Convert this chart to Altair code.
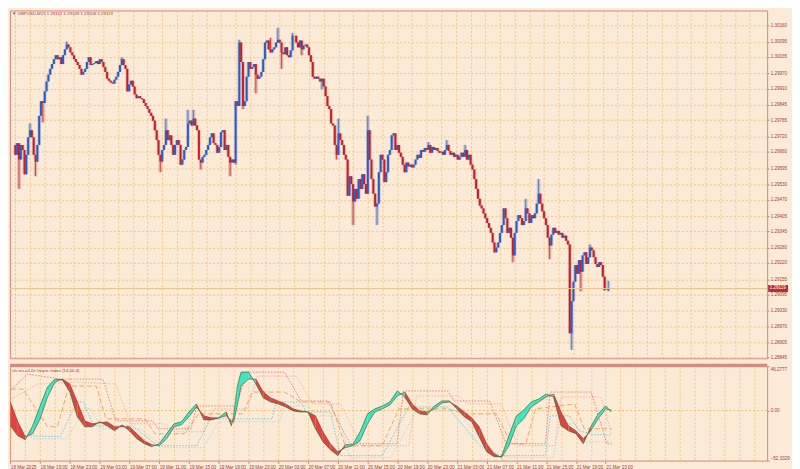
import altair as alt
import pandas as pd

# ---------------- data: GBPUSD M15, bars from 18 Mar 15:00 to 21 Mar 23:45 ----------------
first_open = 1.29687
close = [
    1.29648, 1.29694, 1.29629, 1.29687, 1.29667, 1.29571, 1.29648, 1.29717,
    1.29745, 1.29717, 1.29648, 1.29621, 1.29687, 1.29802, 1.29860, 1.29853,
    1.29899, 1.29938, 1.29965, 1.29988, 1.30007, 1.30026, 1.30042, 1.30026,
    1.30034, 1.30007, 1.30042, 1.30065, 1.30084, 1.30073, 1.30053, 1.30042,
    1.30026, 1.30015, 1.30003, 1.29988, 1.29965, 1.29976, 1.29988, 1.30015,
    1.30034, 1.30003, 1.30007, 1.30011, 1.30019, 1.30007, 1.30026, 1.30015,
    1.29995, 1.29976, 1.29949, 1.29941, 1.29934, 1.29930, 1.29945, 1.29957,
    1.29976, 1.30003, 1.30026, 1.30003, 1.29988, 1.29899, 1.29926, 1.29941,
    1.29918, 1.29887, 1.29872, 1.29880, 1.29872, 1.29868, 1.29853, 1.29841,
    1.29829, 1.29814, 1.29802, 1.29783, 1.29745, 1.29706, 1.29648, 1.29621,
    1.29667, 1.29687, 1.29745, 1.29706, 1.29725, 1.29687, 1.29648, 1.29687,
    1.29706, 1.29687, 1.29609, 1.29629, 1.29667, 1.29679, 1.29772, 1.29783,
    1.29764, 1.29791, 1.29764, 1.29745, 1.29629, 1.29617, 1.29640, 1.29648,
    1.29667, 1.29687, 1.29717, 1.29733, 1.29694, 1.29687, 1.29656, 1.29679,
    1.29737, 1.29745, 1.29667, 1.29687, 1.29640, 1.29617, 1.29629, 1.29617,
    1.29860, 1.29841, 1.30092, 1.30015, 1.29841, 1.29860, 1.29957, 1.30015,
    1.29988, 1.29995, 1.30007, 1.29965, 1.29949, 1.29957, 1.29976, 1.30026,
    1.30092, 1.30100, 1.30065, 1.30053, 1.30065, 1.30073, 1.30092, 1.30103,
    1.30092, 1.30053, 1.30046, 1.30073, 1.30042, 1.30034, 1.30061, 1.30119,
    1.30119, 1.30092, 1.30073, 1.30100, 1.30065, 1.30080, 1.30084, 1.30073,
    1.30042, 1.30015, 1.29957, 1.29949, 1.29957, 1.29949, 1.29938, 1.29949,
    1.29918, 1.29880, 1.29841, 1.29829, 1.29772, 1.29764, 1.29687, 1.29648,
    1.29733, 1.29706, 1.29687, 1.29648, 1.29629, 1.29486, 1.29563, 1.29532,
    1.29463, 1.29513, 1.29474, 1.29552, 1.29513, 1.29571, 1.29532, 1.29494,
    1.29745, 1.29629, 1.29552, 1.29494, 1.29443, 1.29455, 1.29579, 1.29648,
    1.29629, 1.29540, 1.29579, 1.29648, 1.29667, 1.29725, 1.29733, 1.29667,
    1.29687, 1.29656, 1.29640, 1.29609, 1.29579, 1.29617, 1.29602, 1.29609,
    1.29598, 1.29609, 1.29629, 1.29648, 1.29636, 1.29667, 1.29660, 1.29675,
    1.29667, 1.29687, 1.29656, 1.29679, 1.29667, 1.29675, 1.29663, 1.29656,
    1.29660, 1.29648, 1.29667, 1.29687, 1.29663, 1.29648, 1.29656, 1.29640,
    1.29648, 1.29629, 1.29640, 1.29656, 1.29640, 1.29667, 1.29629, 1.29648,
    1.29609, 1.29590, 1.29552, 1.29513, 1.29474, 1.29447, 1.29436, 1.29416,
    1.29397, 1.29378, 1.29359, 1.29339, 1.29301, 1.29262, 1.29281, 1.29301,
    1.29339, 1.29370, 1.29436, 1.29397, 1.29339, 1.29359, 1.29320, 1.29250,
    1.29339, 1.29386, 1.29409, 1.29397, 1.29370, 1.29386, 1.29436, 1.29416,
    1.29378, 1.29409, 1.29397, 1.29416, 1.29455, 1.29494, 1.29455, 1.29424,
    1.29397, 1.29370, 1.29320, 1.29289, 1.29332, 1.29359, 1.29339, 1.29347,
    1.29332, 1.29339, 1.29320, 1.29328, 1.29308, 1.29293, 1.28942, 1.29069,
    1.29146, 1.29212, 1.29177, 1.29231, 1.29185, 1.29250, 1.29262, 1.29216,
    1.29243, 1.29281, 1.29270, 1.29243, 1.29216, 1.29204, 1.29223, 1.29212,
    1.29166, 1.29112, 1.29112, 1.29119,
]
high_ext = {8: 1.29772, 28: 1.30096, 58: 1.30034, 82: 1.29791, 94: 1.29826, 97: 1.29826,
            122: 1.30103, 139: 1.30111, 143: 1.30150, 151: 1.30130, 176: 1.29791, 192: 1.29802,
            225: 1.29698, 235: 1.29706, 245: 1.29687, 278: 1.29474, 285: 1.29552, 313: 1.29293,
            323: 1.29149}
low_ext = {2: 1.29513, 11: 1.29563, 15: 1.29776, 79: 1.29579, 101: 1.29590, 117: 1.29563,
           120: 1.29609, 124: 1.29829, 131: 1.29891, 145: 1.29988, 156: 1.30042, 167: 1.29907,
           175: 1.29629, 184: 1.29370, 197: 1.29370, 271: 1.29223, 291: 1.29235, 303: 1.28876,
           308: 1.29108, 323: 1.29108}

price_ticks = [1.30160, 1.30095, 1.30035, 1.29970, 1.29910, 1.29845, 1.29785, 1.29720,
               1.29660, 1.29595, 1.29530, 1.29470, 1.29405, 1.29345, 1.29280, 1.29220,
               1.29155, 1.29095, 1.29030, 1.28970, 1.28905, 1.28845]
time_labels = ["18 Mar 2025", "18 Mar 19:00", "18 Mar 23:00", "19 Mar 03:00", "19 Mar 07:00",
               "19 Mar 11:00", "19 Mar 15:00", "19 Mar 19:00", "19 Mar 23:00", "20 Mar 03:00",
               "20 Mar 07:00", "20 Mar 11:00", "20 Mar 15:00", "20 Mar 19:00", "20 Mar 23:00",
               "21 Mar 03:00", "21 Mar 07:00", "21 Mar 11:00", "21 Mar 15:00", "21 Mar 19:00",
               "21 Mar 23:00"]

# oscillator (hours since 18 Mar 15:00): fast and slow lines
ind_hour = list(range(30)) + [29.7, 30, 30.5] + list(range(31, 81)) + [80.75]
ind_fast = [-16.0, -26.4, -30.5, -16.0, 4.8, 24.5, 32.8, 31.8, 19.3, -6.6,
            -17.0, -17.0, -11.8, -16.0, -21.2, -15.0, -21.2, -29.5, -34.7, -37.8,
            -34.7, -24.3, -13.9, -11.8, -1.5, 6.9, -9.8, -9.8, -7.7, -1.5,
            -16.0, -6.0, 25.0,
            40.1, 40.1, 27.6, 13.1, 8.9, 6.9, 3.7, -0.4, -1.5,
            -1.5, -19.1, -32.6, -40.9, -47.1, -35.7, -35.7, -22.2, -3.5, 1.7,
            4.8, 8.9, 20.4, 14.1, 1.7, -3.5, -4.6, 4.8, 10.0, 10.0,
            1.7, -6.6, -11.8, -27.4, -43.0, -48.2, -48.2, -26.4, -5.6, 0.6,
            8.9, 12.0, 17.2, 14.1, -16.0, -21.2, -24.3, -34.7, -17.0, -3.5,
            4.8, -1.5]
ind_slow = [8.9, -11.8, -27.4, -24.3, -8.7, 14.1, 29.7, 32.8, 27.6, 8.9,
            -10.8, -13.9, -12.9, -11.8, -17.0, -17.0, -17.0, -24.3, -31.6, -35.7,
            -36.8, -29.5, -17.0, -15.0, -6.6, 3.7, -5.6, -7.7, -7.7, -5.6,
            -10.8, -12.0, 5.0,
            25.5, 32.8, 32.8, 19.3, 13.1, 10.0, 6.9, 1.7, -0.4,
            -1.5, -5.6, -22.2, -34.7, -43.0, -38.8, -36.8, -31.6, -13.9, -1.5,
            1.7, 5.8, 15.2, 19.3, 6.9, -0.4, -1.5, 1.7, 7.9, 8.9,
            4.8, -1.5, -7.7, -17.0, -34.7, -45.1, -49.2, -36.8, -16.0, -8.7,
            3.7, 8.9, 14.1, 17.2, -1.5, -16.0, -21.2, -29.5, -21.2, -8.7,
            1.7, 0.6]

# level lines of the oscillator (bar index, value)
r1_bar = [0.5, 9.4, 27.8, 49.8, 56.7, 76.6, 79.2, 97.1, 100.2, 121.2, 127.5, 147.4, 156.3, 170.5,
          182.6, 207.8, 211.4, 235.0, 238.7, 257.6, 266.5, 287.5, 290.2, 312.2, 320.6, 323.2]
r1_val = [22.4, 38.0, 32.8, 32.8, -10.8, -10.8, -19.1, -19.1, 4.8, 4.8, 40.1, 40.1, 10.0, 10.0,
          -34.7, -34.7, 20.4, 20.4, 10.0, 10.0, -34.7, -34.7, 19.3, 19.3, -34.7, -34.7]
r2_bar = [0.5, 14.7, 35.7, 56.7, 64.5, 82.9, 88.1, 103.9, 109.1, 127.5, 132.7, 153.7, 162.6,
          177.3, 188.9, 214.1, 218.3, 241.3, 245.5, 263.9, 272.8, 292.8, 295.9, 317.4, 323.2]
r2_val = [12.0, 27.6, 29.7, 27.6, -13.9, -13.9, -22.2, -22.2, 1.7, 1.7, 35.9, 35.9, 6.9,
          6.9, -36.8, -36.8, 15.2, 15.2, 6.9, 6.9, -36.8, -36.8, 14.1, 14.1, -24.3]
c1_bar = [0.5, 7.9, 26.8, 35.7, 39.4, 44.6, 65.6, 79.2, 100.2, 107.6, 140.6, 143.2, 156.3, 159.0,
          172.1, 177.3, 199.9, 214.1, 235.0, 252.4, 262.9, 287.5, 290.2, 300.6, 305.9, 313.7, 323.2]
c1_val = [-1.5, -26.4, -27.4, 8.9, 8.9, -16.0, -16.0, -36.8, -36.8, -8.7, -8.7, 8.9, 8.9, -1.5,
          -1.5, -47.1, -47.1, 3.7, 3.7, -36.8, -47.1, -47.1, -5.6, -5.6, -21.2, -25.3, -25.3]
c2_bar = [0.5, 12.1, 30.4, 39.9, 43.5, 48.8, 69.8, 82.9, 103.9, 111.8, 144.8, 147.4, 160.5,
          163.2, 176.3, 182.6, 204.6, 218.3, 240.3, 257.1, 267.6, 291.7, 295.4, 303.3, 308.5, 323.2]
c2_val = [-8.7, -29.5, -29.5, 1.7, 1.7, -19.1, -19.1, -38.8, -38.8, -11.8, -11.8, 4.8, 4.8,
          -5.6, -5.6, -49.2, -49.2, -0.4, -0.4, -40.9, -49.2, -49.2, -13.9, -13.9, -32.6, -32.6]
o1_bar = [0.5, 6.8, 19.9, 25.2, 31.5, 46.2, 51.4, 72.4, 77.7, 93.4, 101.3, 124.9, 130.1, 147.4,
          156.3, 172.1, 180.0, 199.9, 208.8, 235.0, 245.5, 261.3, 269.2, 277.0, 282.3, 303.3, 308.5, 323.2]
o1_val = [22.4, 22.4, -17.0, -17.0, 25.5, 25.5, -8.7, -8.7, -24.3, -24.3, -3.5, -3.5, 19.3, 19.3,
          8.9, 8.9, -36.8, -36.8, 1.7, 1.7, -3.5, -3.5, -34.7, -34.7, 1.7, 6.9, -19.1, -19.1]

# ---------------- style ----------------
W, H1, H2 = 762, 350, 95
BG = "#faead6"
GRID = "#eeb45a"
FRAME = "#d38a80"
TXT = "#9e3f40"
BULL = "#2b5cc6"
BEAR = "#c01f2c"
FONT = "Liberation Sans"
FS = 4.6

# ---------------- tables ----------------
rows = []
prev = first_open
for i, c in enumerate(close):
    o = prev
    hi = max(o, c, high_ext.get(i, c))
    lo = min(o, c, low_ext.get(i, c))
    rows.append({"i": i, "o": o, "c": c, "h": hi, "l": lo, "dir": "bull" if c >= o else "bear"})
    prev = c
candles = pd.DataFrame(rows)
last = rows[-1]

seg_rows = []
for k in range(len(ind_hour) - 1):
    up = (ind_fast[k] + ind_fast[k + 1]) >= (ind_slow[k] + ind_slow[k + 1])
    for j in (k, k + 1):
        seg_rows.append({"seg": k, "x": ind_hour[j] * 4, "f": ind_fast[j], "s": ind_slow[j],
                         "kind": "rise" if up else "fall"})
band = pd.DataFrame(seg_rows)
osc = pd.DataFrame({"x": [h * 4 for h in ind_hour], "f": ind_fast, "s": ind_slow})

def level_df(bars, vals):
    return pd.DataFrame({"x": bars, "v": vals})

# ---------------- scales / axes ----------------
xs = alt.Scale(domain=[-0.2, 406.8], nice=False, zero=False)
ys = alt.Scale(domain=[1.28843, 1.30219], nice=False, zero=False)
grid_vals = list(range(0, 401, 8))

x_top_axis = alt.Axis(grid=True, labels=False, ticks=False, domain=False, values=grid_vals, title=None)
y_top_axis = alt.Axis(orient="right", values=price_ticks, format=".5f", grid=True, ticks=True,
                      tickSize=2, domain=False, labelPadding=1, title=None)
X = alt.X("i:Q", scale=xs, axis=x_top_axis)
dir_color = alt.Color("dir:N", scale=alt.Scale(domain=["bull", "bear"], range=[BULL, BEAR]), legend=None)

base = alt.Chart(candles)
ghost = base.mark_bar(width=3.6, opacity=0.28).encode(
    x=X, y=alt.Y("l:Q", scale=ys, axis=y_top_axis), y2="h:Q", color=dir_color)
wick = base.mark_rule(strokeWidth=0.8, opacity=0.85).encode(
    x=X, y=alt.Y("l:Q", scale=ys, axis=y_top_axis), y2="h:Q", color=dir_color)
body = base.mark_bar(width=1.9).encode(
    x=X, y=alt.Y("o:Q", scale=ys, axis=y_top_axis), y2="c:Q", color=dir_color)

last_df = pd.DataFrame({"p": [last["c"]], "lab": [f"{last['c']:.5f}"]})
pline = alt.Chart(last_df).mark_rule(color="#e8c48e", strokeWidth=1).encode(
    y=alt.Y("p:Q", scale=ys, axis=y_top_axis), x=alt.value(0), x2=alt.value(W))
pbox = alt.Chart(last_df).mark_rule(color="#bf2a2e", strokeWidth=7).encode(
    y=alt.Y("p:Q", scale=ys, axis=y_top_axis), x=alt.value(W + 1), x2=alt.value(W + 21))
ptxt = alt.Chart(last_df).mark_text(align="left", baseline="middle", color="white", fontSize=FS,
                                    font=FONT).encode(
    y=alt.Y("p:Q", scale=ys, axis=y_top_axis), x=alt.value(W + 2.5), text="lab:N")

title_df = pd.DataFrame({"t": [f"\u25BC GBPUSD,M15  {last['o']:.5f} {last['h']:.5f} {last['l']:.5f} {last['c']:.5f}"]})
title = alt.Chart(title_df).mark_text(align="left", baseline="middle", fontSize=4.4, color=TXT,
                                      font=FONT).encode(x=alt.value(2), y=alt.value(4), text="t:N")

top = alt.layer(ghost, wick, body, pline, pbox, ptxt, title).properties(width=W, height=H1)

# ---------------- indicator ----------------
iy = alt.Scale(domain=[-52.3329, 46.2777], nice=False, zero=False)
lbl_arr = "[" + ",".join(f"'{t}'" for t in time_labels) + "]"
x_bot_axis = alt.Axis(orient="bottom", values=grid_vals, grid=True, domain=False, title=None,
                      labelExpr=f"datum.value % 16 == 0 && datum.value <= 320 ? {lbl_arr}[datum.value / 16] : ''",
                      labelAlign="left", labelPadding=1, tickSize=3, labelOverlap=False, labelFlush=False,
                      labelBound=False,
                      tickOpacity={"condition": {"test": "datum.value % 16 == 0 && datum.value <= 320", "value": 1}, "value": 0})
y_bot_axis = alt.Axis(orient="right", values=[-52.3329, 0, 46.2777],
                      labelExpr="datum.value == 0 ? '0.00' : format(datum.value, '.4f')",
                      labelFlush=True, grid=False, ticks=True, tickSize=2, domain=False, title=None,
                      labelPadding=1)
XI = alt.X("x:Q", scale=xs, axis=x_bot_axis)

zero = alt.Chart(pd.DataFrame({"z": [0.0]})).mark_rule(color=GRID, strokeDash=[2, 2], strokeWidth=0.8).encode(
    y=alt.Y("z:Q", scale=iy, axis=y_bot_axis), x=alt.value(0), x2=alt.value(W))

def level_layer(bars, vals, color, dash, width=0.8, op=1.0):
    return alt.Chart(level_df(bars, vals)).mark_line(color=color, strokeDash=dash, strokeWidth=width,
                                                     opacity=op).encode(
        x=XI, y=alt.Y("v:Q", scale=iy, axis=y_bot_axis))

lv_r1 = level_layer(r1_bar, r1_val, "#e86a6a", [1.5, 1.5])
lv_r2 = level_layer(r2_bar, r2_val, "#ec8a8a", [1.5, 1.5], 0.7, 0.8)
lv_c1 = level_layer(c1_bar, c1_val, "#4cc4e4", [1.5, 1.5])
lv_c2 = level_layer(c2_bar, c2_val, "#78d2ea", [1.5, 1.5], 0.7, 0.8)
lv_o1 = level_layer(o1_bar, o1_val, "#e8a96a", [5, 2.5], 1.0)

area = alt.Chart(band).mark_area(opacity=1, strokeWidth=0).encode(
    x=XI, y=alt.Y("f:Q", scale=iy, axis=y_bot_axis), y2="s:Q", detail="seg:N",
    color=alt.Color("kind:N", scale=alt.Scale(domain=["rise", "fall"], range=["#3fe3c2", "#e2433f"]), legend=None))
fast_line = alt.Chart(osc).mark_line(color="#2f6d33", strokeWidth=0.7).encode(
    x=XI, y=alt.Y("f:Q", scale=iy, axis=y_bot_axis))
slow_line = alt.Chart(osc).mark_line(color="#7a3a2a", strokeWidth=0.6).encode(
    x=XI, y=alt.Y("s:Q", scale=iy, axis=y_bot_axis))

sep = alt.Chart(pd.DataFrame({"a": [0]})).mark_rule(color=FRAME, strokeWidth=3).encode(
    x=alt.value(0), x2=alt.value(W), y=alt.value(-1))
ind_name = alt.Chart(pd.DataFrame({"t": ["cls.ies.a1.Dr Inrync Index (14,00,4)"]})).mark_text(
    align="left", baseline="middle", fontSize=4.4, color=TXT, font=FONT).encode(
    x=alt.value(2), y=alt.value(5), text="t:N")

bottom = alt.layer(zero, lv_o1, lv_r2, lv_r1, lv_c2, lv_c1, area, fast_line, slow_line, sep,
                   ind_name).properties(width=W, height=H2)

chart = alt.vconcat(top, bottom, spacing=3).resolve_scale(color="independent").properties(padding=0).configure(
    background=BG, font=FONT
).configure_view(
    stroke=FRAME, strokeWidth=1, fill=BG
).configure_axis(
    labelFont=FONT, labelFontSize=FS, labelColor=TXT, gridColor=GRID, gridDash=[2, 2],
    gridWidth=0.7, gridOpacity=0.9, tickColor=FRAME
)

chart.save("out.html", embed_options={"renderer": "svg", "actions": False})
